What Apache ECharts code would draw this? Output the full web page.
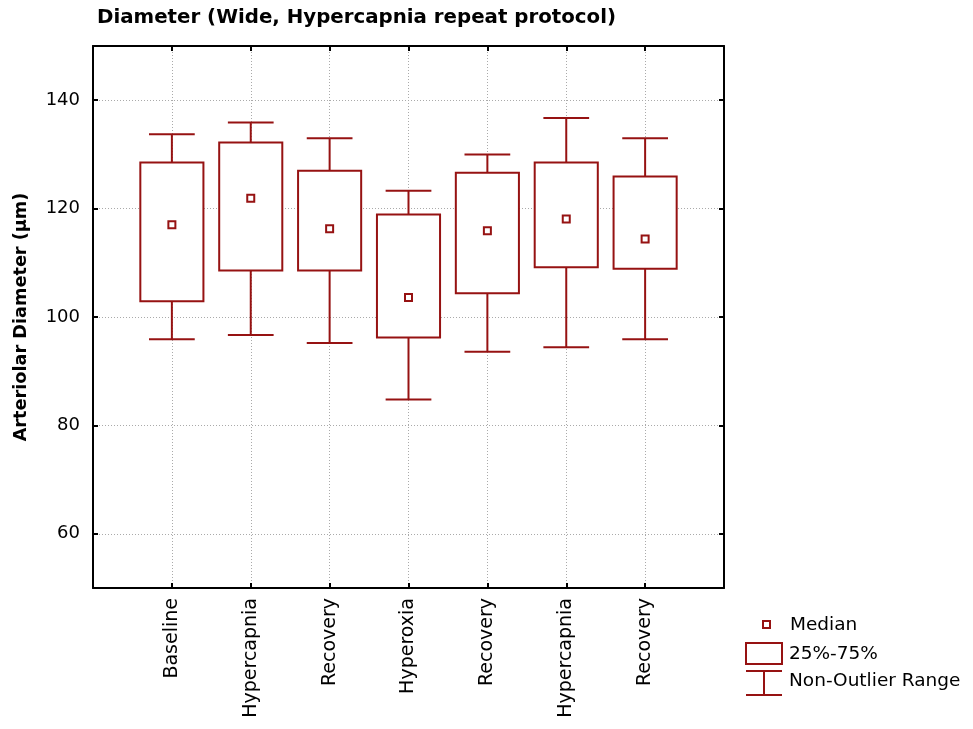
<!DOCTYPE html>
<html>
<head>
<meta charset="utf-8">
<script src="https://cdn.jsdelivr.net/npm/echarts@6/dist/echarts.min.js"></script>
<style>
  html, body { margin: 0; padding: 0; background: #fff; }
  #chart { width: 973px; height: 729px; }
</style>
</head>
<body>
<div id="chart"></div>
<script>
// Experimental phases, in protocol order
const categories = ['Baseline', 'Hypercapnia', 'Recovery', 'Hyperoxia', 'Recovery', 'Hypercapnia', 'Recovery'];
// Box-plot statistics of arteriolar diameter (µm)
const whiskerLow  = [95.9, 96.7, 95.2, 84.8, 93.6, 94.4, 95.9];
const quartile1   = [102.9, 108.6, 108.6, 96.2, 104.4, 109.2, 108.9];
const medians     = [117.0, 121.9, 116.3, 103.6, 115.9, 118.1, 114.4];
const quartile3   = [128.5, 132.2, 127.0, 118.9, 126.6, 128.5, 125.9];
const whiskerHigh = [133.7, 135.9, 133.0, 123.3, 130.0, 136.7, 133.0];
// Axis ticks
const yTicks = [60, 80, 100, 120, 140];
const xTicks = [1, 2, 3, 4, 5, 6, 7];

const BOX_COLOR = '#961212';
const FONT = 'DejaVu Sans';

const boxData = categories.map((c, i) => [i + 1, whiskerLow[i], quartile1[i], medians[i], quartile3[i], whiskerHigh[i]]);

function renderBox(params, api) {
  const x = api.value(0);
  const lo = api.coord([x, api.value(1)]);
  const q1 = api.coord([x, api.value(2)]);
  const md = api.coord([x, api.value(3)]);
  const q3 = api.coord([x, api.value(4)]);
  const hi = api.coord([x, api.value(5)]);
  const boxHalf = api.size([0.4, 0])[0];
  const capHalf = api.size([0.29, 0])[0];
  const stroke = { stroke: BOX_COLOR, lineWidth: 2, fill: null };
  return {
    type: 'group',
    children: [
      { type: 'line', shape: { x1: lo[0], y1: lo[1], x2: q1[0], y2: q1[1] }, style: stroke },
      { type: 'line', shape: { x1: q3[0], y1: q3[1], x2: hi[0], y2: hi[1] }, style: stroke },
      { type: 'line', shape: { x1: lo[0] - capHalf, y1: lo[1], x2: lo[0] + capHalf, y2: lo[1] }, style: stroke },
      { type: 'line', shape: { x1: hi[0] - capHalf, y1: hi[1], x2: hi[0] + capHalf, y2: hi[1] }, style: stroke },
      { type: 'rect', shape: { x: q3[0] - boxHalf, y: q3[1], width: boxHalf * 2, height: q1[1] - q3[1] },
        style: { stroke: BOX_COLOR, lineWidth: 2, fill: '#fff' } },
      { type: 'rect', shape: { x: md[0] - 3.5, y: md[1] - 3.5, width: 7, height: 7 },
        style: { stroke: BOX_COLOR, lineWidth: 2, fill: '#fff' } }
    ]
  };
}

const frameLine = { show: true, onZero: false, lineStyle: { color: '#000', width: 2 } };
const innerTick = list => ({ show: true, inside: true, length: 5, customValues: list, lineStyle: { color: '#000', width: 2 } });
const gridDots = { show: true, lineStyle: { color: '#aaaaaa', width: 1, type: [1, 2] } };

const chart = echarts.init(document.getElementById('chart'), null, { renderer: 'canvas' });
chart.setOption({
  animation: false,
  backgroundColor: '#fff',
  title: {
    text: 'Diameter (Wide, Hypercapnia repeat protocol)',
    left: 92, top: 3,
    textStyle: { fontFamily: FONT, fontWeight: 'bold', fontSize: 19.8, color: '#000' }
  },
  grid: { left: 93, right: 249, top: 46, bottom: 141 },
  xAxis: [
    {
      type: 'value', min: 0, max: 8, position: 'bottom',
      axisLine: frameLine,
      axisTick: innerTick(xTicks),
      axisLabel: {
        show: true, customValues: xTicks, rotate: 90, margin: 10,
        fontFamily: FONT, fontSize: 19, color: '#000',
        formatter: v => categories[Math.round(v) - 1] || ''
      },
      splitLine: gridDots
    },
    {
      type: 'value', min: 0, max: 8, position: 'top',
      axisLine: frameLine,
      axisTick: innerTick(xTicks),
      axisLabel: { show: false },
      splitLine: { show: false }
    }
  ],
  yAxis: [
    {
      type: 'value', min: 50, max: 150, position: 'left',
      name: 'Arteriolar Diameter (µm)', nameLocation: 'middle', nameGap: 63,
      nameTextStyle: { fontFamily: FONT, fontWeight: 'bold', fontSize: 17.7, color: '#000' },
      axisLine: frameLine,
      axisTick: innerTick(yTicks),
      axisLabel: { show: true, customValues: yTicks, margin: 13, fontFamily: FONT, fontSize: 18, color: '#000' },
      splitLine: gridDots
    },
    {
      type: 'value', min: 50, max: 150, position: 'right',
      axisLine: frameLine,
      axisTick: innerTick(yTicks),
      axisLabel: { show: false },
      splitLine: { show: false }
    }
  ],
  series: [
    {
      type: 'custom',
      xAxisIndex: 0, yAxisIndex: 0,
      renderItem: renderBox,
      data: boxData,
      z: 5
    }
  ],
  graphic: [
    // Legend: median marker
    { type: 'rect', shape: { x: 763, y: 621, width: 7, height: 7 }, style: { stroke: BOX_COLOR, lineWidth: 2, fill: '#fff' } },
    { type: 'text', x: 790, y: 625, style: { text: 'Median', fontFamily: FONT, fontSize: 18.5, fill: '#000', verticalAlign: 'middle' } },
    // Legend: interquartile box
    { type: 'rect', shape: { x: 746, y: 643, width: 36, height: 21 }, style: { stroke: BOX_COLOR, lineWidth: 2, fill: '#fff' } },
    { type: 'text', x: 789, y: 654, style: { text: '25%-75%', fontFamily: FONT, fontSize: 18.5, fill: '#000', verticalAlign: 'middle' } },
    // Legend: whisker range
    { type: 'line', shape: { x1: 746, y1: 671, x2: 782, y2: 671 }, style: { stroke: BOX_COLOR, lineWidth: 2 } },
    { type: 'line', shape: { x1: 764, y1: 671, x2: 764, y2: 695 }, style: { stroke: BOX_COLOR, lineWidth: 2 } },
    { type: 'line', shape: { x1: 746, y1: 695, x2: 782, y2: 695 }, style: { stroke: BOX_COLOR, lineWidth: 2 } },
    { type: 'text', x: 789, y: 681, style: { text: 'Non-Outlier Range', fontFamily: FONT, fontSize: 18.5, fill: '#000', verticalAlign: 'middle' } }
  ]
});
</script>
</body>
</html>
